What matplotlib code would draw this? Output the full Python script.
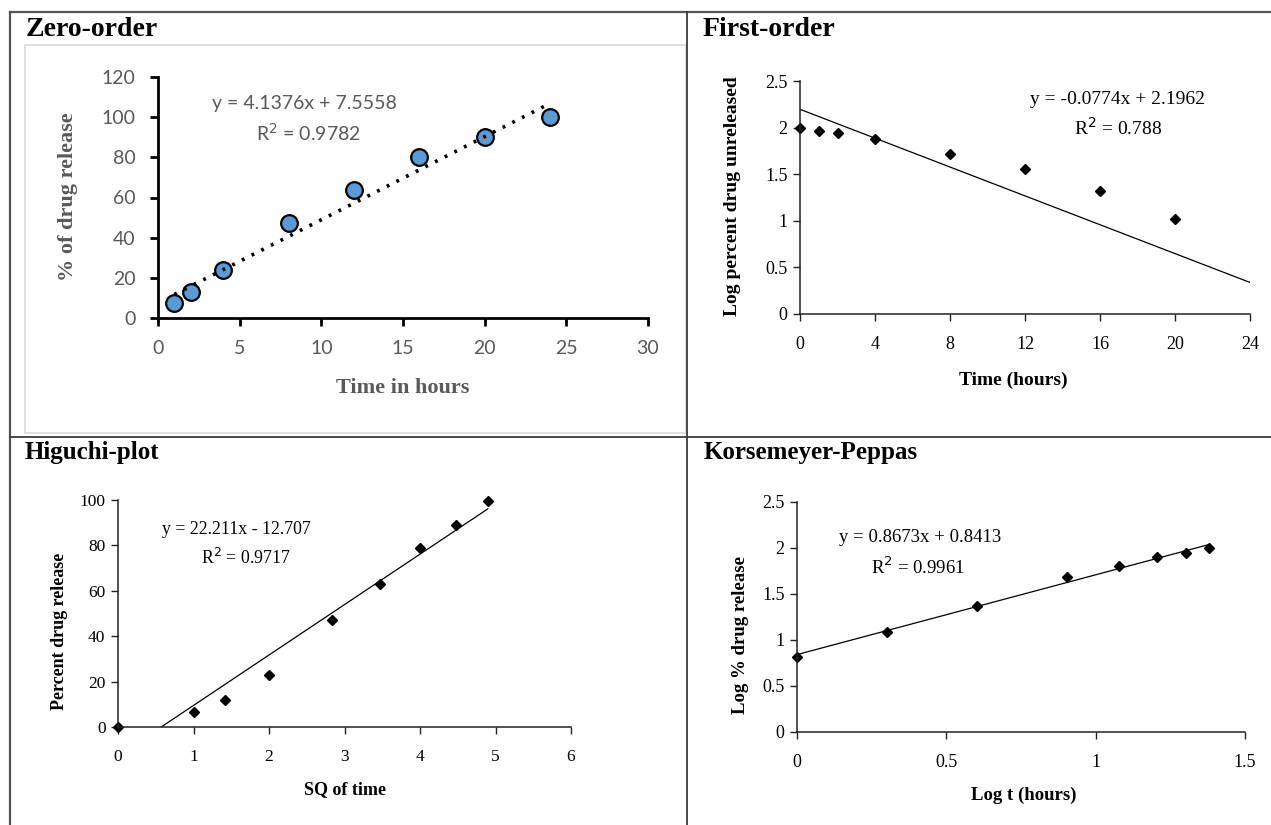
import matplotlib
matplotlib.use("Agg")
import matplotlib.pyplot as plt
from matplotlib.lines import Line2D
from matplotlib.patches import Rectangle

W, H = 1271, 825

# ---------------- data ----------------
zo_time = [1, 2, 4, 8, 12, 16, 20, 24]
zo_release = [7.5, 13, 24, 47.5, 63.5, 80, 90, 100]
zo_slope, zo_icpt = 4.1376, 7.5558
zo_xticks = [0, 5, 10, 15, 20, 25, 30]
zo_yticks = [0, 20, 40, 60, 80, 100, 120]

fo_time = [0, 1, 2, 4, 8, 12, 16, 20]
fo_logunrel = [2.0, 1.96, 1.94, 1.88, 1.72, 1.56, 1.32, 1.02]
fo_slope, fo_icpt = -0.0774, 2.1962
fo_xticks = [0, 4, 8, 12, 16, 20, 24]
fo_yticks = [0, 0.5, 1, 1.5, 2, 2.5]

hg_sqt = [0, 1, 1.414, 2, 2.828, 3.464, 4, 4.472, 4.899]
hg_release = [0, 6.5, 12, 23, 47, 63, 79, 89, 99.5]
hg_slope, hg_icpt = 22.211, -12.707
hg_xticks = [0, 1, 2, 3, 4, 5, 6]
hg_yticks = [0, 20, 40, 60, 80, 100]

kp_logt = [0, 0.301, 0.602, 0.903, 1.079, 1.204, 1.301, 1.380]
kp_logrel = [0.82, 1.09, 1.37, 1.68, 1.80, 1.90, 1.95, 2.00]
kp_slope, kp_icpt = 0.8673, 0.8413
kp_xticks = [0, 0.5, 1, 1.5]
kp_yticks = [0, 0.5, 1, 1.5, 2, 2.5]

SERIF = "Liberation Serif"
SANS = "Lato"
GRAY = "#595959"

fig = plt.figure(figsize=(W / 100, H / 100), dpi=100)


def fx(px):
    return px / W


def fy(py):
    return 1 - py / H


def place(x0, x1, ybot, ytop, xlim, ylim):
    ax = fig.add_axes([fx(x0), fy(ybot), (x1 - x0) / W, (ybot - ytop) / H])
    ax.set_xlim(*xlim)
    ax.set_ylim(*ylim)
    ax.patch.set_alpha(0)
    for s in ("top", "right"):
        ax.spines[s].set_visible(False)
    return ax


def ftext(px, py, s, **kw):
    fig.text(fx(px), fy(py), s, ha="center", va="center", **kw)


# ---------------- table frame ----------------
lc = "#3a3a3a"
fig.add_artist(Line2D([fx(10), 1], [fy(12), fy(12)], color="#555555", lw=1.6))
fig.add_artist(Line2D([fx(10), fx(10)], [fy(12), 0], color="#555555", lw=1.6))
fig.add_artist(Line2D([fx(687), fx(687)], [fy(12), 0], color=lc, lw=1.3))
fig.add_artist(Line2D([fx(10), 1], [fy(437), fy(437)], color=lc, lw=1.3))
fig.add_artist(Rectangle((fx(25), fy(433)), fx(686) - fx(25), fy(45) - fy(433),
                         transform=fig.transFigure, fill=False,
                         edgecolor="#d9d9d9", lw=1.2))

# titles
tkw = dict(family=SERIF, fontweight="bold", color="black",
           ha="left", va="center")
fig.text(fx(26), fy(30), "Zero-order", fontsize=20, **tkw)
fig.text(fx(703), fy(30), "First-order", fontsize=20, **tkw)
fig.text(fx(25), fy(452), "Higuchi-plot", fontsize=18, **tkw)
fig.text(fx(704), fy(452), "Korsemeyer-Peppas", fontsize=18, **tkw)

# ---------------- Zero-order ----------------
ax = place(158, 648, 318, 77, (0, 30), (0, 120))
for s in ("left", "bottom"):
    ax.spines[s].set_linewidth(2)
    ax.spines[s].set_color("black")
ax.set_xticks(zo_xticks)
ax.set_yticks(zo_yticks)
ax.tick_params(direction="out", length=6, width=2, color="black",
               labelcolor=GRAY, labelsize=14)
ax.tick_params(axis="y", pad=10)
ax.tick_params(axis="x", pad=10)
for lab in ax.get_xticklabels() + ax.get_yticklabels():
    lab.set_family(SANS)
ax.plot([zo_time[0], zo_time[-1]],
        [zo_slope * zo_time[0] + zo_icpt, zo_slope * zo_time[-1] + zo_icpt],
        color="black", lw=2.6, ls=(0, (0.8, 2.2)), zorder=3)
ax.plot(zo_time, zo_release, "o", ms=12, mfc="#5B9BD5", mec="black",
        mew=1.6, zorder=2, clip_on=False)
ftext(68, 197, "% of drug release", rotation=90, family=SERIF,
      fontweight="bold", fontsize=16, color=GRAY)
ftext(403, 388, "Time in hours", family=SERIF, fontweight="bold",
      fontsize=16, color=GRAY)
ftext(304, 103, "y = 4.1376x + 7.5558", family=SANS, fontsize=14, color=GRAY)
ftext(308, 133, "R$^2$ = 0.9782", family=SANS, fontsize=14, color=GRAY)


def serif_axes(ax, xt, yt, xtl, ytl, size):
    for s in ("left", "bottom"):
        ax.spines[s].set_linewidth(1.1)
        ax.spines[s].set_color("#222222")
    ax.set_xticks(xt)
    ax.set_yticks(yt)
    ax.set_xticklabels(xtl)
    ax.set_yticklabels(ytl)
    ax.tick_params(direction="out", length=5, width=1, color="#222222",
                   labelcolor="black", labelsize=size)
    ax.tick_params(axis="y", pad=4)
    ax.tick_params(axis="x", pad=11)
    for lab in ax.get_xticklabels() + ax.get_yticklabels():
        lab.set_family(SERIF)


def fmt(v):
    return "%g" % v


# ---------------- First-order ----------------
ax = place(800, 1250, 314, 81, (0, 24), (0, 2.5))
serif_axes(ax, fo_xticks, fo_yticks, [fmt(v) for v in fo_xticks],
           [fmt(v) for v in fo_yticks], 13)
x0, x1 = fo_xticks[0], fo_xticks[-1]
ax.plot([x0, x1], [fo_slope * x0 + fo_icpt, fo_slope * x1 + fo_icpt],
        color="black", lw=0.9)
ax.plot(fo_time, fo_logunrel, "D", ms=5.5, color="black", clip_on=False)
ftext(733, 196, "Log percent drug unreleased", rotation=90, family=SERIF,
      fontweight="bold", fontsize=14)
ftext(1013, 380, "Time (hours)", family=SERIF, fontweight="bold", fontsize=14)
ftext(1118, 99, "y = -0.0774x + 2.1962", family=SERIF, fontsize=14)
ftext(1118, 128, "R$^2$ = 0.788", family=SERIF, fontsize=14)

# ---------------- Higuchi ----------------
ax = place(118, 571, 727, 500, (0, 6), (0, 100))
serif_axes(ax, hg_xticks, hg_yticks, [fmt(v) for v in hg_xticks],
           [fmt(v) for v in hg_yticks], 12.5)
x0 = -hg_icpt / hg_slope
x1 = hg_sqt[-1]
ax.plot([x0, x1], [hg_slope * x0 + hg_icpt, hg_slope * x1 + hg_icpt],
        color="black", lw=0.9)
ax.plot(hg_sqt, hg_release, "D", ms=5.5, color="black", clip_on=False)
ftext(60, 631, "Percent drug release", rotation=90, family=SERIF,
      fontweight="bold", fontsize=13)
ftext(345, 790, "SQ of time", family=SERIF, fontweight="bold", fontsize=13)
ftext(236, 530, "y = 22.211x - 12.707", family=SERIF, fontsize=12.8)
ftext(246, 558, "R$^2$ = 0.9717", family=SERIF, fontsize=12.8)

# ---------------- Korsmeyer-Peppas ----------------
ax = place(797, 1245, 732, 502, (0, 1.5), (0, 2.5))
serif_axes(ax, kp_xticks, kp_yticks, [fmt(v) for v in kp_xticks],
           [fmt(v) for v in kp_yticks], 13)
x0, x1 = kp_logt[0], kp_logt[-1]
ax.plot([x0, x1], [kp_slope * x0 + kp_icpt, kp_slope * x1 + kp_icpt],
        color="black", lw=0.9)
ax.plot(kp_logt, kp_logrel, "D", ms=5.5, color="black", clip_on=False)
ftext(740, 635, "Log % drug release", rotation=90, family=SERIF,
      fontweight="bold", fontsize=13.5)
ftext(1024, 795, "Log t (hours)", family=SERIF, fontweight="bold", fontsize=13.5)
ftext(920, 538, "y = 0.8673x + 0.8413", family=SERIF, fontsize=13.5)
ftext(918, 567, "R$^2$ = 0.9961", family=SERIF, fontsize=13.5)

fig.savefig("out.png", dpi=100)
